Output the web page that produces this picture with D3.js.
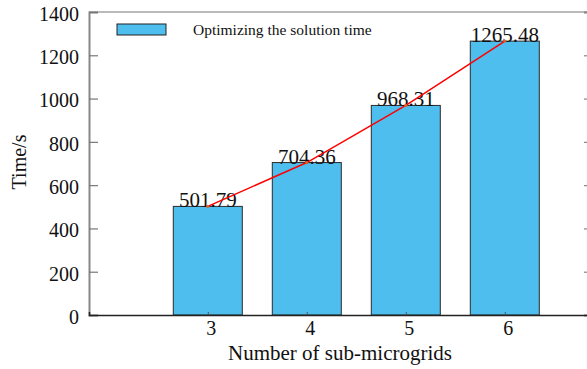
<!DOCTYPE html>
<html><head><meta charset="utf-8">
<script src="https://cdn.jsdelivr.net/npm/d3@7"></script>
<style>body{margin:0;background:#fff}svg{display:block}text{font-family:"Liberation Serif","Times New Roman",serif;fill:#111}</style>
</head><body><svg id="c" width="587" height="369"></svg>
<script>
const categories = [3, 4, 5, 6];
const values = [501.79, 704.36, 968.31, 1265.48];
const labels = ["501.79", "704.36", "968.31", "1265.48"];
const yTicks = [0, 200, 400, 600, 800, 1000, 1200, 1400];
const legendLabel = "Optimizing the solution time";
const xTitle = "Number of sub-microgrids";
const yTitle = "Time/s";

const svg = d3.select("#c");
const L = 89, T = 12, B = 315, R = 593;
const x = d3.scaleLinear().domain([1.8, 7.2]).range([L, L + 5.4 * 99]);
const y = d3.scaleLinear().domain([0, 1400]).range([B, T]);
const bw = 69;
const serif = '"Liberation Serif","Times New Roman",serif';

// bars
svg.selectAll("rect.bar").data(values).enter().append("rect")
  .attr("class","bar")
  .attr("x",(d,i)=>x(categories[i])-bw/2)
  .attr("y",d=>y(d))
  .attr("width",bw)
  .attr("height",d=>B-y(d))
  .attr("fill","#4DBEEE").attr("stroke","#2b2b2b").attr("stroke-width",1);

// top frame
svg.append("line").attr("x1",L).attr("x2",R).attr("y1",T).attr("y2",T).attr("stroke","#777").attr("stroke-width",1.2);
// left axis
const yAxis = d3.axisLeft(y).tickValues(yTicks).tickSize(-9).tickPadding(10).tickFormat(d3.format("d"));
const ga = svg.append("g").attr("transform",`translate(${L},0)`).call(yAxis);
ga.attr("font-family", serif);
ga.select(".domain").attr("stroke","#888").attr("stroke-width",2);
ga.selectAll(".tick line").attr("stroke","#777").attr("stroke-width",1.2);
ga.selectAll(".tick text").attr("font-size",20).attr("x",-10).attr("dy","0.42em").style("font-family",serif).attr("fill","#222");
// right axis ticks
const yR = d3.axisRight(y).tickValues(yTicks).tickSize(-9).tickFormat("");
const gr = svg.append("g").attr("transform",`translate(${R},0)`).call(yR);
gr.select(".domain").attr("stroke","#888").attr("stroke-width",2);
gr.selectAll(".tick line").attr("stroke","#888").attr("stroke-width",1.2);

// bottom axis
const xAxis = d3.axisBottom(x).tickValues(categories).tickSize(-3).tickPadding(8).tickFormat(d3.format("d"));
const gb = svg.append("g").attr("transform",`translate(0,${B})`).call(xAxis);
gb.attr("font-family", serif);
gb.select(".domain").attr("stroke","#222").attr("stroke-width",1.5);
gb.selectAll(".tick line").attr("stroke","#555");
gb.selectAll(".tick text").attr("font-size",20).attr("y",20).attr("dy","0em").attr("dx",3).style("font-family",serif).attr("fill","#222");

// value labels
svg.selectAll("text.vl").data(values).enter().append("text")
  .attr("class","vl")
  .attr("x",(d,i)=>x(categories[i]))
  .attr("y",d=>y(d)+1)
  .attr("text-anchor","middle").attr("font-size",21).text((d,i)=>labels[i]);

// red line
const line = d3.line().x((d,i)=>x(categories[i])).y(d=>y(d)).curve(d3.curveLinear);
svg.append("path").datum(values).attr("d",line).attr("fill","none").attr("stroke","#ff0000").attr("stroke-width",1.5);
svg.selectAll("circle.pt").data(values).enter().append("circle")
  .attr("cx",(d,i)=>x(categories[i])).attr("cy",d=>y(d)).attr("r",1.6).attr("fill","#e0602a");

// legend
svg.append("rect").attr("x",117).attr("y",24).attr("width",49).attr("height",11).attr("fill","#4DBEEE").attr("stroke","#222").attr("stroke-width",1);
svg.append("text").attr("x",193).attr("y",35).attr("font-size",15.5).text(legendLabel);

// titles
svg.append("text").attr("x",340).attr("y",360).attr("text-anchor","middle").attr("font-size",21).text(xTitle);
svg.append("text").attr("transform","translate(26,162) rotate(-90)").attr("text-anchor","middle").attr("font-size",20).text(yTitle);
</script></body></html>
